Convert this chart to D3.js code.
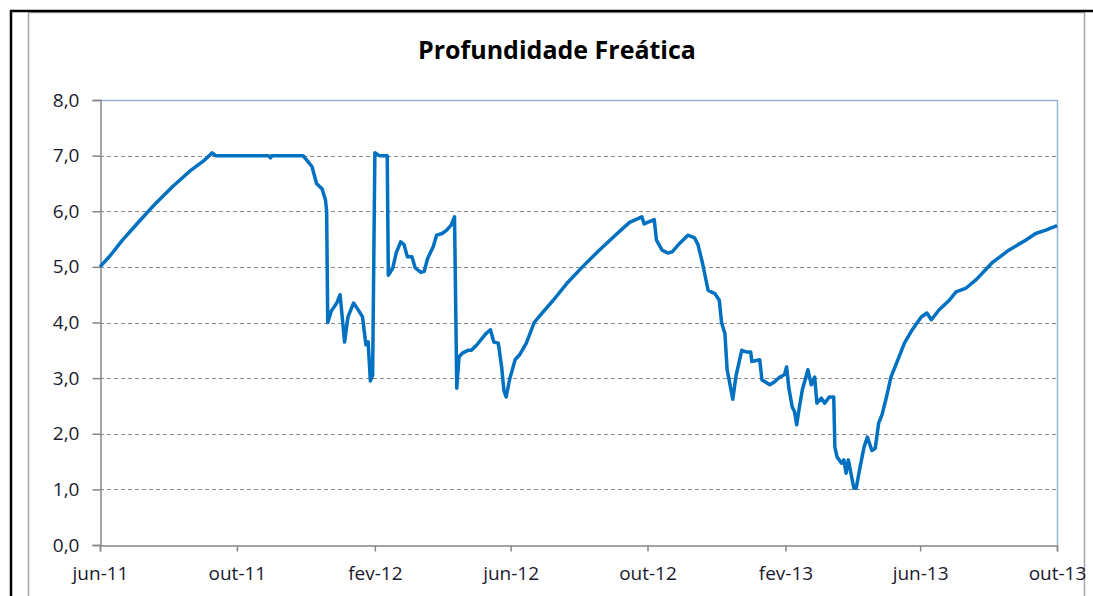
<!DOCTYPE html>
<html>
<head>
<meta charset="utf-8">
<script src="https://cdn.jsdelivr.net/npm/d3@7"></script>
<style>
  body { margin: 0; background: #fff; }
  svg { display: block; }
</style>
</head>
<body>
<script>
// Profundidade freática (m), leituras tiradas do gráfico
var dates = [
  "2011-06-01","2011-06-10","2011-06-21","2011-07-06","2011-07-21","2011-08-05","2011-08-20","2011-09-01","2011-09-09",
  "2011-09-12","2011-10-29","2011-10-31","2011-11-01","2011-11-29","2011-12-03","2011-12-07","2011-12-11","2011-12-16",
  "2011-12-19","2011-12-20","2011-12-21","2011-12-24","2011-12-29","2012-01-01","2012-01-05","2012-01-08","2012-01-13",
  "2012-01-18","2012-01-21","2012-01-24","2012-01-26","2012-01-28","2012-01-30","2012-02-01","2012-02-05","2012-02-12",
  "2012-02-13","2012-02-17","2012-02-20","2012-02-24","2012-02-27","2012-03-01","2012-03-05","2012-03-08","2012-03-13",
  "2012-03-16","2012-03-19","2012-03-24","2012-03-27","2012-04-01","2012-04-05","2012-04-09","2012-04-12","2012-04-14",
  "2012-04-16","2012-04-19","2012-04-24","2012-04-27","2012-05-02","2012-05-06","2012-05-10","2012-05-14","2012-05-17",
  "2012-05-21","2012-05-24","2012-05-26","2012-05-28","2012-05-31","2012-06-05","2012-06-09","2012-06-15","2012-06-22",
  "2012-06-29","2012-07-09","2012-07-21","2012-08-04","2012-08-19","2012-09-04","2012-09-15","2012-09-26","2012-09-28",
  "2012-10-01","2012-10-07","2012-10-09","2012-10-14","2012-10-19","2012-10-23","2012-10-30","2012-11-06","2012-11-12",
  "2012-11-15","2012-11-19","2012-11-24","2012-11-30","2012-12-04","2012-12-06","2012-12-09","2012-12-11","2012-12-16",
  "2012-12-19","2012-12-24","2012-12-28","2013-01-01","2013-01-02","2013-01-09","2013-01-11","2013-01-18","2013-01-22",
  "2013-01-27","2013-01-31","2013-02-02","2013-02-04","2013-02-07","2013-02-09","2013-02-11","2013-02-13","2013-02-16",
  "2013-02-21","2013-02-24","2013-02-27","2013-03-01","2013-03-05","2013-03-08","2013-03-12","2013-03-16","2013-03-17",
  "2013-03-19","2013-03-23","2013-03-25","2013-03-27","2013-03-29","2013-04-01","2013-04-03","2013-04-05","2013-04-08",
  "2013-04-12","2013-04-15","2013-04-19","2013-04-22","2013-04-25","2013-04-28","2013-05-02","2013-05-06","2013-05-11",
  "2013-05-18","2013-05-25","2013-06-02","2013-06-07","2013-06-11","2013-06-18","2013-06-27","2013-07-03","2013-07-12",
  "2013-07-21","2013-08-04","2013-08-19","2013-09-03","2013-09-12","2013-09-21","2013-10-01"
];
var depth = [
  5.0, 5.2, 5.48, 5.82, 6.15, 6.45, 6.72, 6.9, 7.05,
  7.0, 7.0, 6.96, 7.0, 7.0, 6.9, 6.8, 6.5, 6.4,
  6.2, 6.0, 4.0, 4.2, 4.35, 4.5, 3.65, 4.1, 4.35,
  4.2, 4.1, 3.6, 3.65, 2.95, 3.05, 7.05, 7.0, 7.0,
  4.85, 4.98, 5.25, 5.45, 5.4, 5.18, 5.18, 4.98, 4.9,
  4.92, 5.15, 5.36, 5.57, 5.6, 5.66, 5.75, 5.9, 2.82,
  3.38, 3.45, 3.5, 3.5, 3.6, 3.7, 3.8, 3.87, 3.65,
  3.63, 3.2, 2.78, 2.66, 2.97, 3.33, 3.42, 3.63, 4.0,
  4.17, 4.4, 4.7, 5.0, 5.3, 5.6, 5.8, 5.9, 5.77,
  5.8, 5.85, 5.48, 5.3, 5.25, 5.27, 5.43, 5.57, 5.52,
  5.4, 5.07, 4.58, 4.52, 4.4, 4.0, 3.8, 3.15, 2.62,
  3.05, 3.5, 3.47, 3.47, 3.3, 3.33, 2.97, 2.88, 2.93,
  3.02, 3.06, 3.2, 2.82, 2.48, 2.4, 2.16, 2.43, 2.79,
  3.15, 2.88, 3.02, 2.55, 2.64, 2.55, 2.66, 2.66, 1.76,
  1.58, 1.47, 1.53, 1.29, 1.53, 1.22, 1.02, 1.02, 1.35,
  1.76, 1.94, 1.7, 1.74, 2.19, 2.34, 2.66, 3.02, 3.27,
  3.63, 3.87, 4.1, 4.17, 4.05, 4.23, 4.4, 4.55, 4.62,
  4.77, 5.07, 5.3, 5.48, 5.6, 5.66, 5.74
];
var tickDates = ["2011-06-01","2011-10-01","2012-02-01","2012-06-01","2012-10-01","2013-02-01","2013-06-01","2013-10-01"];
var tickLabels = ["jun-11","out-11","fev-12","jun-12","out-12","fev-13","jun-13","out-13"];
var yTicks = [0, 1, 2, 3, 4, 5, 6, 7, 8];

var width = 1093, height = 596;
var plotLeft = 100, plotRight = 1057, plotTop = 100, plotBottom = 545;
var parse = d3.timeParse("%Y-%m-%d");
var font = "'Open Sans', Lato, sans-serif";

var data = dates.map(function(d, i) { return { date: parse(d), v: depth[i] }; });

var x = d3.scaleTime()
  .domain([parse(tickDates[0]), parse(tickDates[tickDates.length - 1])])
  .range([plotLeft, plotRight]);
var y = d3.scaleLinear().domain([0, 8]).range([plotBottom, plotTop]);

var svg = d3.select("body").append("svg")
  .attr("width", width)
  .attr("height", height);

// moldura externa
svg.append("rect").attr("x", 28.5).attr("y", 12.5).attr("width", 1056).attr("height", 600)
  .attr("fill", "#fff").attr("stroke", "#a6a6a6").attr("stroke-width", 1.5);
svg.append("line").attr("x1", 11).attr("x2", 11).attr("y1", 10).attr("y2", height)
  .attr("stroke", "#000").attr("stroke-width", 2.5);
svg.append("line").attr("x1", 10).attr("x2", width).attr("y1", 11).attr("y2", 11)
  .attr("stroke", "#000").attr("stroke-width", 2.5);

svg.append("text")
  .attr("x", 557).attr("y", 59)
  .attr("text-anchor", "middle")
  .style("font-family", font).style("font-weight", "bold").style("font-size", "25px")
  .attr("fill", "#000")
  .text("Profundidade Freática");

// grade
svg.append("g").selectAll("line")
  .data(yTicks.filter(function(t) { return t > 0 && t < 8; }))
  .enter().append("line")
  .attr("x1", plotLeft).attr("x2", plotRight)
  .attr("y1", function(d) { return Math.round(y(d)) + 0.5; })
  .attr("y2", function(d) { return Math.round(y(d)) + 0.5; })
  .attr("stroke", "#8c8c8c").attr("stroke-width", 1.2).attr("stroke-dasharray", "4,3");

// borda superior e direita
svg.append("path")
  .attr("d", "M" + plotLeft + "," + (plotTop + 0.5) + "H" + (plotRight + 0.5) + "V" + plotBottom)
  .attr("fill", "none").attr("stroke", "#95b3d7").attr("stroke-width", 1.5);

var yAxis = svg.append("g")
  .attr("transform", "translate(" + (plotLeft + 0.5) + ",0)")
  .call(d3.axisLeft(y).tickValues(yTicks).tickSize(8).tickPadding(13)
    .tickFormat(function(d) { return d3.format(".1f")(d).replace(".", ","); }));

var xAxis = svg.append("g")
  .attr("transform", "translate(0," + (plotBottom + 0.5) + ")")
  .call(d3.axisBottom(x).tickValues(tickDates.map(parse)).tickSize(6).tickPadding(15)
    .tickFormat(function(d, i) { return tickLabels[i]; }));

[yAxis, xAxis].forEach(function(a) {
  a.select(".domain").attr("stroke", "#868686").attr("stroke-width", 1.5);
  a.selectAll(".tick line").attr("stroke", "#868686").attr("stroke-width", 1.5);
  a.selectAll("text").style("font-family", font).style("font-size", "19px").attr("fill", "#1a1a2e");
});

svg.append("path")
  .datum(data)
  .attr("fill", "none")
  .attr("stroke", "#0070c0")
  .attr("stroke-width", 3.5)
  .attr("stroke-linejoin", "round")
  .attr("d", d3.line().x(function(d) { return x(d.date); }).y(function(d) { return y(d.v); }));
</script>
</body>
</html>
